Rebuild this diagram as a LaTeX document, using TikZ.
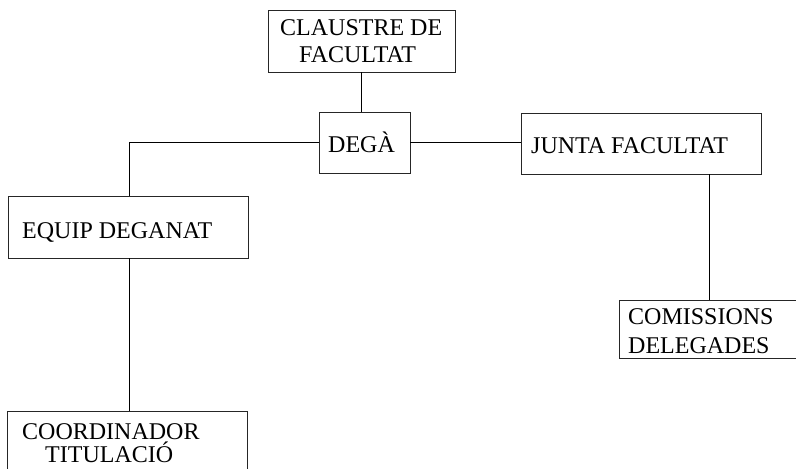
\documentclass[tikz,border=0pt]{standalone}
\usepackage{fontspec}
\setmainfont{Liberation Serif}
\begin{document}
\begin{tikzpicture}[x=1pt,y=-1pt,
  box/.style={draw=black!85, line width=0.9pt, inner sep=0pt, rectangle},
  txt/.style={anchor=base west, inner sep=0pt, font=\fontsize{24}{28}\selectfont},
  conn/.style={draw=black, line width=0.9pt}]
\clip (0,0) rectangle (796,469);
\fill[white] (0,0) rectangle (796,469);
% boxes
\node[box, minimum width=187pt, minimum height=62pt] (claustre) at (361.5,41) {};
\node[box, minimum width=91pt, minimum height=61pt] (dega) at (364.5,142.5) {};
\node[box, minimum width=240pt, minimum height=61pt] (junta) at (641,143.5) {};
\node[box, minimum width=240pt, minimum height=62pt] (equip) at (128,227) {};
\node[box, minimum width=181pt, minimum height=58pt] (comissions) at (709.5,329) {};
\node[box, minimum width=240pt, minimum height=69pt] (coord) at (127,445.5) {};
% texts
\node[txt] (t1) at (280,35) {CLAUSTRE DE};
\node[txt] (t2) at (299,62) {FACULTAT};
\node[txt] (t3) at (328,152) {DEGÀ};
\node[txt] (t4) at (531,153) {JUNTA FACULTAT};
\node[txt] (t5) at (22,238) {EQUIP DEGANAT};
\node[txt] (t6) at (628,324) {COMISSIONS};
\node[txt] (t7) at (628,353) {DELEGADES};
\node[txt] (t8) at (22,439) {COORDINADOR};
\node[txt] (t9) at (45,462) {TITULACIÓ};
% connectors
\draw[conn] (claustre.south) -- (claustre.south |- dega.north);
\draw[conn] (dega.west) -| ([xshift=1pt]equip.north);
\draw[conn] (dega.east) -- (dega.east -| junta.west);
\draw[conn] (comissions.north |- junta.south) -- (comissions.north);
\draw[conn] ([xshift=1pt]equip.south) -- ([xshift=1pt]equip.south |- coord.north);
\end{tikzpicture}
\end{document}
